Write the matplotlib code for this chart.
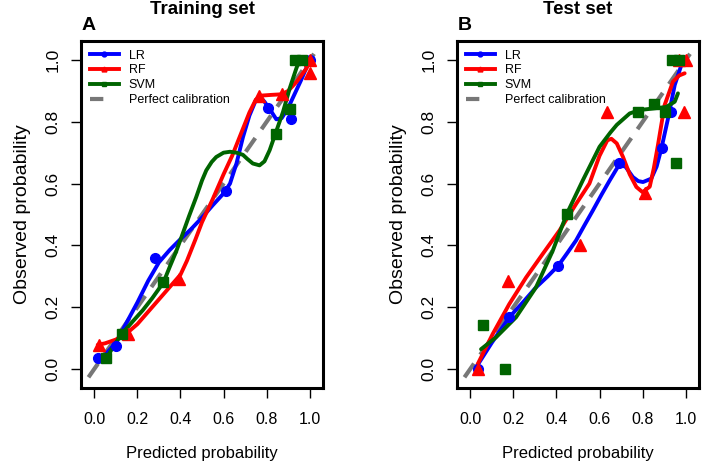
import matplotlib
matplotlib.use("Agg")
import matplotlib.pyplot as plt
from matplotlib.lines import Line2D

plt.rcParams['font.family'] = ['Liberation Sans', 'DejaVu Sans']

# ---- observed points (grouped calibration points) ----
# Training set
tr_lr_x = [0.016, 0.10, 0.284, 0.612, 0.806, 0.915, 1.0]
tr_lr_y = [0.037, 0.075, 0.36, 0.576, 0.845, 0.808, 1.0]
tr_rf_x = [0.02, 0.155, 0.395, 0.764, 0.873, 1.0, 1.0]
tr_rf_y = [0.078, 0.113, 0.291, 0.883, 0.89, 0.957, 1.0]
tr_svm_x = [0.054, 0.129, 0.321, 0.842, 0.907, 0.93, 0.965]
tr_svm_y = [0.037, 0.113, 0.28, 0.76, 0.843, 1.0, 1.0]

# Test set
te_lr_x = [0.034, 0.178, 0.409, 0.69, 0.888, 0.933, 0.988]
te_lr_y = [0.0, 0.167, 0.333, 0.667, 0.714, 0.833, 1.0]
te_rf_x = [0.034, 0.174, 0.51, 0.636, 0.81, 0.991, 0.97, 1.0]
te_rf_y = [0.0, 0.286, 0.40, 0.833, 0.571, 0.833, 1.0, 1.0]
te_svm_x = [0.057, 0.161, 0.448, 0.778, 0.853, 0.902, 0.953, 0.935, 0.97]
te_svm_y = [0.143, 0.0, 0.5, 0.833, 0.857, 0.833, 0.667, 1.0, 1.0]

# ---- smoothed calibration curves ----
tr_lr_cx = [0.016, 0.05, 0.10, 0.15, 0.20, 0.25, 0.30, 0.35, 0.40, 0.45, 0.50, 0.55, 0.60,
            0.63, 0.66, 0.69, 0.72, 0.75, 0.77, 0.79, 0.82, 0.845, 0.87, 0.90, 0.93, 0.96, 1.0]
tr_lr_cy = [0.025, 0.045, 0.085, 0.15, 0.215, 0.285, 0.345, 0.385, 0.42, 0.453, 0.49, 0.53, 0.568,
            0.60, 0.665, 0.75, 0.82, 0.87, 0.88, 0.865, 0.835, 0.808, 0.812, 0.845, 0.89, 0.935, 1.0]
tr_rf_cx = [0.016, 0.05, 0.10, 0.15, 0.20, 0.25, 0.30, 0.35, 0.40, 0.43, 0.47, 0.50, 0.55,
            0.60, 0.64, 0.68, 0.72, 0.75, 0.78, 0.82, 0.87, 0.90, 0.94, 0.985, 1.0]
tr_rf_cy = [0.078, 0.083, 0.095, 0.115, 0.145, 0.185, 0.225, 0.265, 0.305, 0.35, 0.42, 0.475, 0.55,
            0.63, 0.69, 0.76, 0.83, 0.872, 0.885, 0.887, 0.889, 0.90, 0.93, 0.973, 1.0]
tr_svm_cx = [0.054, 0.09, 0.13, 0.18, 0.225, 0.27, 0.321, 0.35, 0.38, 0.41, 0.44, 0.473, 0.50,
             0.52, 0.545, 0.566, 0.60, 0.63, 0.66, 0.69, 0.71, 0.736, 0.767, 0.79, 0.814, 0.83,
             0.845, 0.876, 0.907, 0.938, 0.953]
tr_svm_cy = [0.03, 0.075, 0.115, 0.155, 0.19, 0.23, 0.28, 0.33, 0.38, 0.437, 0.495, 0.556, 0.61,
             0.643, 0.67, 0.686, 0.70, 0.703, 0.70, 0.693, 0.68, 0.665, 0.659, 0.672, 0.708, 0.74,
             0.77, 0.832, 0.908, 0.973, 1.0]

te_lr_cx = [0.026, 0.10, 0.181, 0.25, 0.305, 0.36, 0.409, 0.45, 0.491, 0.53, 0.569, 0.61, 0.647,
            0.69, 0.72, 0.755, 0.78, 0.802, 0.84, 0.865, 0.887, 0.918, 0.949, 0.98, 1.0]
te_lr_cy = [0.004, 0.085, 0.167, 0.22, 0.264, 0.30, 0.335, 0.375, 0.416, 0.465, 0.513, 0.565, 0.61,
            0.66, 0.655, 0.621, 0.608, 0.605, 0.616, 0.655, 0.713, 0.811, 0.919, 0.984, 1.005]
te_rf_cx = [0.034, 0.104, 0.181, 0.259, 0.336, 0.414, 0.492, 0.553, 0.60, 0.636, 0.655, 0.68,
            0.709, 0.74, 0.771, 0.80, 0.833, 0.852, 0.871, 0.902, 0.941, 0.97, 0.995]
te_rf_cy = [0.015, 0.113, 0.21, 0.296, 0.372, 0.448, 0.535, 0.60, 0.69, 0.74, 0.745, 0.73,
            0.686, 0.63, 0.589, 0.572, 0.59, 0.65, 0.724, 0.854, 0.93, 0.95, 0.957]
te_svm_cx = [0.05, 0.119, 0.212, 0.305, 0.383, 0.448, 0.522, 0.60, 0.65, 0.68, 0.74, 0.786,
             0.848, 0.91, 0.949, 0.964]
te_svm_cy = [0.064, 0.102, 0.167, 0.264, 0.383, 0.502, 0.61, 0.719, 0.765, 0.79, 0.827, 0.838,
             0.843, 0.848, 0.865, 0.892]

ticks = [0.0, 0.2, 0.4, 0.6, 0.8, 1.0]
labels = ['LR', 'RF', 'SVM', 'Perfect calibration']
colors = ['#0000FF', '#FF0000', '#006400']
markers = ['o', '^', 's']
msizes = [7, 8.5, 7.5]

fig = plt.figure(figsize=(7.02, 4.72), dpi=100)
ax1 = fig.add_axes([0.1154, 0.178, 0.3447, 0.7352])
ax2 = fig.add_axes([0.651, 0.178, 0.3447, 0.7352])


def draw_panel(ax, pts, curves, title, letter, lx):
    lim = (-0.0616, 1.0616)
    ax.plot([-0.1, 1.02], [-0.1, 1.02], color='#777777', lw=3, dashes=(4, 2.6), zorder=1)
    for i in range(3):
        px, py = pts[i]
        ax.plot(px, py, ls='none', marker=markers[i], ms=msizes[i], color=colors[i], zorder=3)
        cx, cy = curves[i]
        ax.plot(cx, cy, color=colors[i], lw=2.8, solid_capstyle='round',
                solid_joinstyle='round', zorder=2)
    ax.set_xlim(lim)
    ax.set_ylim(lim)
    ax.set_xticks(ticks)
    ax.set_yticks(ticks)
    ax.set_xticklabels(['%.1f' % t for t in ticks])
    ax.set_yticklabels(['%.1f' % t for t in ticks], rotation=90, va='center')
    ax.tick_params(axis='both', direction='out', length=7, width=1, color='black')
    ax.tick_params(axis='x', labelsize=11.5, pad=10)
    ax.tick_params(axis='y', labelsize=12.5, pad=8)
    for s in ax.spines.values():
        s.set_linewidth(2.2)
    ax.set_xlabel('Predicted probability', fontsize=12, labelpad=14)
    ax.set_ylabel('Observed probability', fontsize=14, labelpad=10)
    pos = ax.get_position()
    fig.text(pos.x0 + pos.width / 2, 1 - 10 / 472, title, ha='center', va='center',
             fontsize=13.5, fontweight='bold')
    fig.text(lx, 1 - 25 / 472, letter, ha='left', va='center', fontsize=14, fontweight='bold')
    handles = [Line2D([], [], color=colors[i], lw=2.8, marker=markers[i], ms=3.5) for i in range(3)]
    handles.append(Line2D([], [], color='#777777', lw=3, dashes=(3.2, 10)))
    ax.legend(handles, labels, loc='upper left', frameon=False, fontsize=9, handlelength=2.3,
              handletextpad=0.8, labelspacing=0.22, borderaxespad=0.4, borderpad=0.3)


draw_panel(ax1,
           [(tr_lr_x, tr_lr_y), (tr_rf_x, tr_rf_y), (tr_svm_x, tr_svm_y)],
           [(tr_lr_cx, tr_lr_cy), (tr_rf_cx, tr_rf_cy), (tr_svm_cx, tr_svm_cy)],
           'Training set', 'A', 82 / 702)
draw_panel(ax2,
           [(te_lr_x, te_lr_y), (te_rf_x, te_rf_y), (te_svm_x, te_svm_y)],
           [(te_lr_cx, te_lr_cy), (te_rf_cx, te_rf_cy), (te_svm_cx, te_svm_cy)],
           'Test set', 'B', 458 / 702)

fig.savefig('out.png', dpi=100)
